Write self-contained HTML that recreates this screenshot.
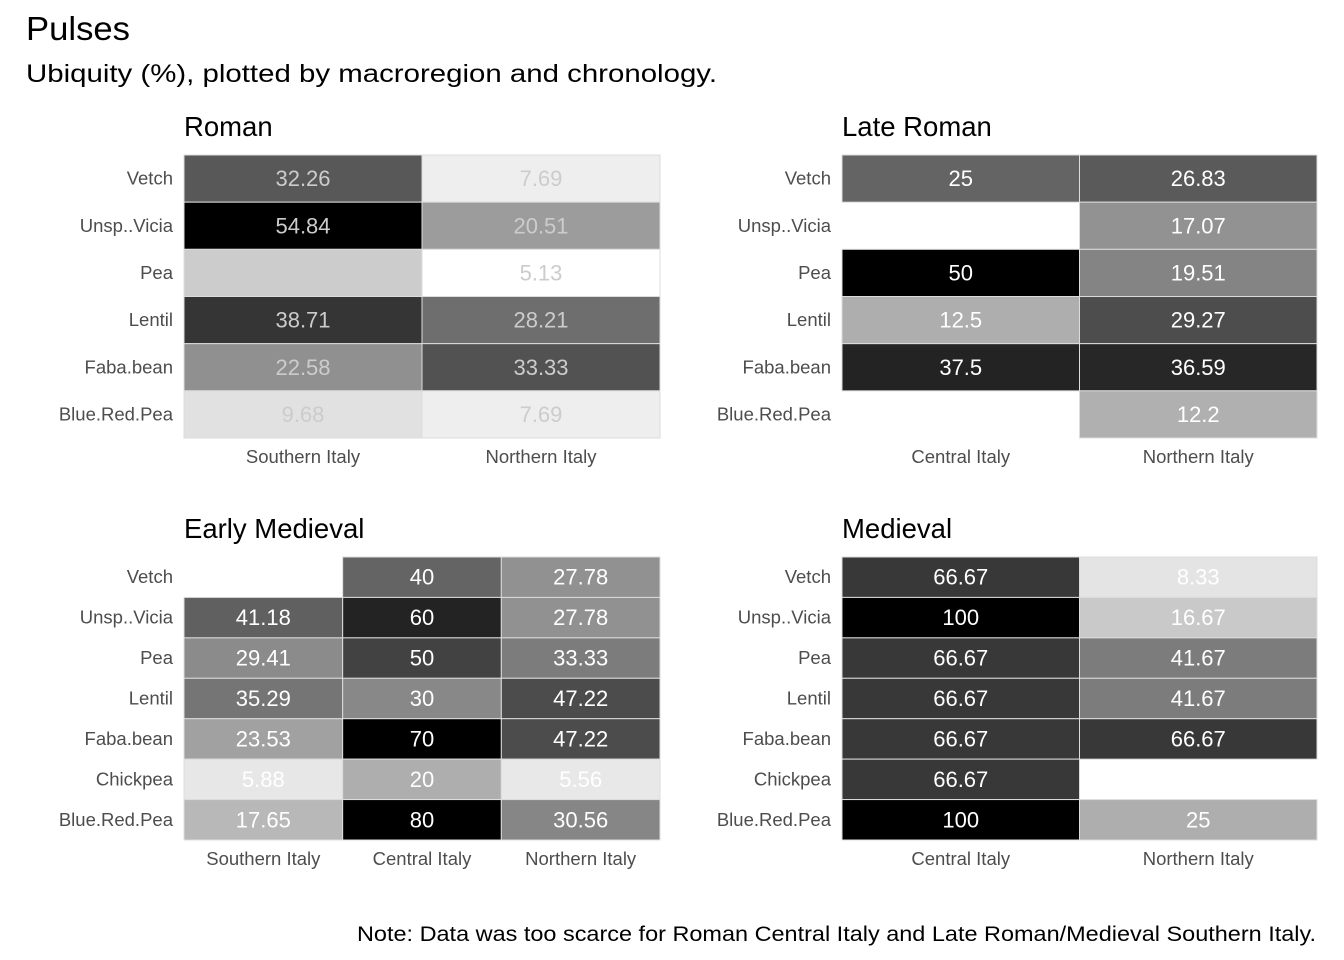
<!DOCTYPE html>
<html><head><meta charset="utf-8">
<style>
html,body{margin:0;padding:0;background:#fff;}
svg{display:block;font-family:"Liberation Sans",Arial,sans-serif;}
</style></head>
<body>
<svg id="chart" width="1344" height="960" viewBox="0 0 1344 960">
<text x="26" y="40" font-size="33" fill="#000" textLength="104" lengthAdjust="spacingAndGlyphs">Pulses</text>
<text x="26" y="82" font-size="25" fill="#000" textLength="691" lengthAdjust="spacingAndGlyphs">Ubiquity (%), plotted by macroregion and chronology.</text>
<text x="1316" y="941" font-size="21" fill="#000" text-anchor="end" textLength="959" lengthAdjust="spacingAndGlyphs">Note: Data was too scarce for Roman Central Italy and Late Roman/Medieval Southern Italy.</text>
<g id="panels"></g>
</svg>
<script>
// ---- data ----
const romanRegions = ["Southern Italy","Northern Italy"];
const romanTaxa = ["Vetch","Unsp..Vicia","Pea","Lentil","Faba.bean","Blue.Red.Pea"];
const romanSouthern = [32.26,54.84,12.9,38.71,22.58,9.68];
const romanNorthern = [7.69,20.51,5.13,28.21,33.33,7.69];

const lateRegions = ["Central Italy","Northern Italy"];
const lateTaxa = ["Vetch","Unsp..Vicia","Pea","Lentil","Faba.bean","Blue.Red.Pea"];
const lateCentral = [25,null,50,12.5,37.5,null];
const lateNorthern = [26.83,17.07,19.51,29.27,36.59,12.2];

const earlyRegions = ["Southern Italy","Central Italy","Northern Italy"];
const earlyTaxa = ["Vetch","Unsp..Vicia","Pea","Lentil","Faba.bean","Chickpea","Blue.Red.Pea"];
const earlySouthern = [null,41.18,29.41,35.29,23.53,5.88,17.65];
const earlyCentral = [40,60,50,30,70,20,80];
const earlyNorthern = [27.78,27.78,33.33,47.22,47.22,5.56,30.56];

const medRegions = ["Central Italy","Northern Italy"];
const medTaxa = ["Vetch","Unsp..Vicia","Pea","Lentil","Faba.bean","Chickpea","Blue.Red.Pea"];
const medCentral = [66.67,100,66.67,66.67,66.67,66.67,100];
const medNorthern = [8.33,16.67,41.67,41.67,66.67,null,25];

// ---- drawing ----
const NS="http://www.w3.org/2000/svg";
const root=document.getElementById('panels');
function grayFor(v,lo,hi){
  const r=(v-lo)/(hi-lo);
  let L=Math.max(0,Math.min(100,100-115*r));
  let Y=Math.pow((L+16)/116,3);
  if(L<8) Y=L/903.3;
  let s=Y<=0.0031308?12.92*Y:1.055*Math.pow(Y,1/2.4)-0.055;
  const g=Math.round(Math.max(0,Math.min(1,s))*255);
  return `rgb(${g},${g},${g})`;
}
function mk(tag,attrs,parent){const e=document.createElementNS(NS,tag);for(const k in attrs)e.setAttribute(k,attrs[k]);parent.appendChild(e);return e;}
function panel(title,key,x0,x1,y0,y1,regions,taxa,cols,textColor,lowMin){
  const g=mk('g',{},root);
  
  
  const t=mk('text',{x:x0,y:y0-19,'font-size':27.5,fill:'#000'},g);t.textContent=title;
  
  
  const all=cols.flat().filter(v=>v!=null);
  const hi=Math.max(...all);const lo=lowMin?Math.min(...all):0;
  const cw=(x1-x0)/regions.length, rh=(y1-y0)/taxa.length;
  const xs=i=>x0+i*cw, ys=j=>y0+j*rh;
  taxa.forEach((tx,j)=>{
    const l=mk('text',{x:x0-11,y:ys(j)+rh/2+6,'font-size':18.5,fill:'#4d4d4d','text-anchor':'end'},g);
    l.textContent=tx;
    
    
  });
  regions.forEach((rg,i)=>{
    const l=mk('text',{x:xs(i)+cw/2,y:y1+25,'font-size':18.5,fill:'#4d4d4d','text-anchor':'middle'},g);
    l.textContent=rg;
    
    
    cols[i].forEach((v,j)=>{
      if(v==null) return;
      const r=mk('rect',{x:xs(i),y:ys(j),width:cw,height:rh,fill:grayFor(v,lo,hi),stroke:'#dcdcdc','stroke-width':1},g);
      
      
      const tt=mk('text',{x:xs(i)+cw/2,y:ys(j)+rh/2+7.5,'font-size':22,fill:textColor,'text-anchor':'middle'},g);
      tt.textContent=String(v);
      
      
    });
  });
}
panel("Roman","roman",184,660,155,438,romanRegions,romanTaxa,[romanSouthern,romanNorthern],"#cccccc",true);
panel("Late Roman","late-roman",842,1317,155,438,lateRegions,lateTaxa,[lateCentral,lateNorthern],"#ffffff",false);
panel("Early Medieval","early-medieval",184,660,557,840,earlyRegions,earlyTaxa,[earlySouthern,earlyCentral,earlyNorthern],"#ffffff",false);
panel("Medieval","medieval",842,1317,557,840,medRegions,medTaxa,[medCentral,medNorthern],"#ffffff",false);
</script>
</body></html>
